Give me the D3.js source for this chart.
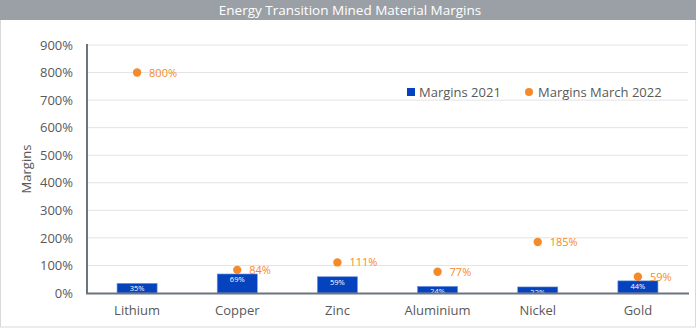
<!DOCTYPE html>
<html><head><meta charset="utf-8">
<script src="https://cdn.jsdelivr.net/npm/d3@7"></script>
<style>body{margin:0;background:#fff}svg{display:block;font-family:"Open Sans",sans-serif}</style>
</head><body><svg id="c" width="700" height="328"></svg>
<script>
const categories = ["Lithium","Copper","Zinc","Aluminium","Nickel","Gold"];
const margins2021 = [35,69,59,24,22,44];
const marginsMarch2022 = [800,84,111,77,185,59];
const yTicks = [0,100,200,300,400,500,600,700,800,900];
const seriesNames = ["Margins 2021","Margins March 2022"];
const title = "Energy Transition Mined Material Margins";

const svg = d3.select("#c");
const W=700,H=328;
const m={l:87,r:12,t:45,b:35};
const textCol="#595959", blue="#0542be", orange="#f58a2a";

// frame
svg.append("rect").attr("x",0.5).attr("y",0.5).attr("width",W-5).attr("height",H-1.5).attr("fill","#fff").attr("stroke","#d9d9d9");
svg.append("rect").attr("x",0).attr("y",0).attr("width",W-4).attr("height",20).attr("fill","#9aa0a6");
svg.append("text").attr("x",350).attr("y",15).attr("text-anchor","middle").attr("fill","#fff").attr("font-size",13.5).text(title);

const x=d3.scaleBand().domain(categories).range([m.l,688]).paddingInner(0.6).paddingOuter(0.3);
const y=d3.scaleLinear().domain([0,900]).range([293,45]);

// grid
svg.append("g").selectAll("line").data(yTicks.slice(1)).join("line")
 .attr("x1",m.l).attr("x2",688).attr("y1",d=>y(d)).attr("y2",d=>y(d)).attr("stroke","#e3e3e3").attr("stroke-width",1);

// y axis labels
const ya=svg.append("g").attr("transform",`translate(${m.l},0)`).call(d3.axisLeft(y).tickValues(yTicks).tickFormat(d=>d+"%").tickSize(0).tickPadding(14));
ya.select(".domain").remove();
ya.selectAll("text").attr("fill",textCol).attr("font-size",13).attr("font-family","Open Sans");

svg.append("text").attr("transform","translate(31,169) rotate(-90)").attr("text-anchor","middle").attr("fill",textCol).attr("font-size",13).text("Margins");

// bars
svg.append("g").selectAll("rect").data(categories).join("rect")
 .attr("x",d=>x(d)).attr("width",x.bandwidth()).attr("y",(d,i)=>y(margins2021[i])).attr("height",(d,i)=>y(0)-y(margins2021[i]))
 .attr("fill",blue).attr("stroke","#6f95e0").attr("stroke-width",0.6);
svg.append("g").selectAll("text").data(categories).join("text")
 .attr("x",d=>x(d)+x.bandwidth()/2).attr("y",(d,i)=>y(margins2021[i])+8).attr("text-anchor","middle")
 .attr("fill","#fff").attr("font-size",7.5).text((d,i)=>margins2021[i]+"%");

// axes lines
svg.append("line").attr("x1",m.l).attr("x2",m.l).attr("y1",44).attr("y2",294).attr("stroke","#6b7580").attr("stroke-width",2);
svg.append("line").attr("x1",m.l-1).attr("x2",689).attr("y1",293.5).attr("y2",293.5).attr("stroke","#6b7580").attr("stroke-width",2);

// x labels
const xa=svg.append("g").attr("transform","translate(0,293)").call(d3.axisBottom(x).tickSize(0).tickPadding(13));
xa.select(".domain").remove();
xa.selectAll("text").attr("fill",textCol).attr("font-size",13).attr("font-family","Open Sans");

// dots
const cx=d=>x(d)+x.bandwidth()/2;
svg.append("g").selectAll("circle").data(categories).join("circle")
 .attr("cx",cx).attr("cy",(d,i)=>y(marginsMarch2022[i])).attr("r",4.2).attr("fill",orange);
svg.append("g").selectAll("text").data(categories).join("text")
 .attr("x",d=>cx(d)+12).attr("y",(d,i)=>y(marginsMarch2022[i])+4).attr("fill",orange).attr("font-size",11)
 .text((d,i)=>marginsMarch2022[i]+"%");

// legend
const lg=svg.append("g");
lg.append("rect").attr("x",407).attr("y",88).attr("width",8).attr("height",8).attr("fill",blue);
lg.append("text").attr("x",419).attr("y",97).attr("fill",textCol).attr("font-size",13).text(seriesNames[0]);
lg.append("circle").attr("cx",529).attr("cy",92).attr("r",4).attr("fill",orange);
lg.append("text").attr("x",538).attr("y",97).attr("fill",textCol).attr("font-size",13).text(seriesNames[1]);
</script></body></html>
